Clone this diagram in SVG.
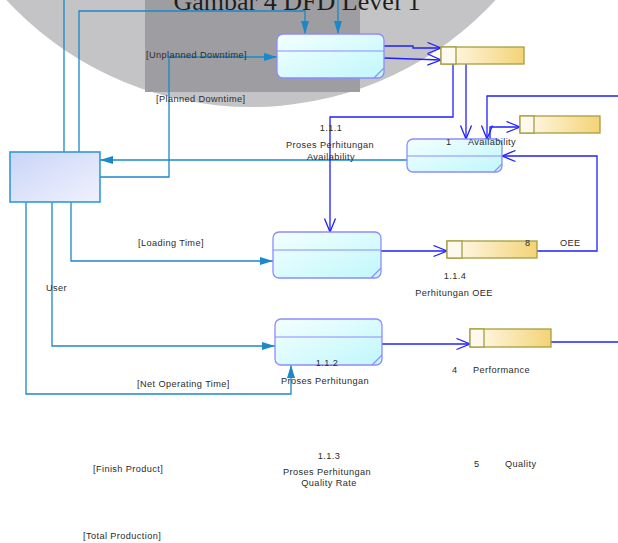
<svg xmlns="http://www.w3.org/2000/svg" width="618" height="543" viewBox="0 0 618 543">
<style>
.lb{stroke:#1a88c9;stroke-width:1.3;fill:none}
.db{stroke:#1f1fff;stroke-width:1.3;fill:none}
.proc{stroke:#8c8cff;stroke-width:1.3;fill:url(#gProc)}
.pdiv{stroke:#8c8cff;stroke-width:1.1}
.ds{stroke:#a69f3e;stroke-width:1.3;fill:url(#gDs)}
.dsl{fill:#fdf9ee;stroke:#a69f3e;stroke-width:1.3}
.t{font-family:"Liberation Sans",Arial,sans-serif;font-size:9.2px;letter-spacing:0.4px;fill:#2b2b2b}
.c{text-anchor:middle}
</style>
<defs>
<linearGradient id="gProc" x1="0" y1="0" x2="1" y2="1">
<stop offset="0" stop-color="#f4ffff"/><stop offset="1" stop-color="#c0f7fb"/>
</linearGradient>
<linearGradient id="gEnt" x1="0" y1="0" x2="1" y2="1">
<stop offset="0" stop-color="#c9d5f6"/><stop offset="1" stop-color="#f0f1fe"/>
</linearGradient>
<linearGradient id="gDs" x1="0" y1="0" x2="1" y2="0">
<stop offset="0" stop-color="#fffbf0"/><stop offset="1" stop-color="#f4d377"/>
</linearGradient>
<marker id="af" markerUnits="userSpaceOnUse" markerWidth="13" markerHeight="8" refX="13" refY="4" orient="auto">
<path d="M0,0 L13,4 L0,8 z" fill="#1a88c9"/>
</marker>
<marker id="ao" markerUnits="userSpaceOnUse" markerWidth="16" markerHeight="13" refX="14.5" refY="6.5" orient="auto">
<path d="M1,1 L14.5,6.5 L1,12" fill="none" stroke="#1f1fff" stroke-width="1.3"/>
</marker>
</defs>

<g id="background">
<circle cx="251" cy="-226" r="333" fill="#c4c4c6"/>
<rect x="145" y="0" width="215" height="92" fill="#9e9ea2"/>
<text x="297" y="10" text-anchor="middle" font-family="'Liberation Serif','Times New Roman',serif" font-size="26" fill="#1e1e1e">Gambar 4 DFD Level 1</text>
</g>

<g id="connectors">
<path class="lb" d="M64,152 V0"/>
<path class="lb" d="M79,152 V11 H305 V34" marker-end="url(#af)"/>
<path class="lb" d="M338,0 V34" marker-end="url(#af)"/>
<path class="lb" d="M100,177 H169 V57 H277" marker-end="url(#af)"/>
<path class="lb" d="M407,160 H100" marker-end="url(#af)"/>
<path class="lb" d="M71,202 V261 H273" marker-end="url(#af)"/>
<path class="lb" d="M52,202 V346 H275" marker-end="url(#af)"/>
<path class="lb" d="M26,202 V394 H291 V365" marker-end="url(#af)"/>

<path class="db" d="M384,46 H413 V48 H441" marker-end="url(#ao)"/>
<path class="db" d="M384,58 L441,60" marker-end="url(#ao)"/>
<path class="db" d="M453,64 V117 H330 V232" marker-end="url(#ao)"/>
<path class="db" d="M466,64 V139" marker-end="url(#ao)"/>
<path class="db" d="M618,96 H487 V139" marker-end="url(#ao)"/>
<path class="db" d="M490,139 V127 H520" marker-end="url(#ao)"/>
<path class="db" d="M537,251 H597 V156 H502" marker-end="url(#ao)"/>
<path class="db" d="M381,251 H447" marker-end="url(#ao)"/>
<path class="db" d="M382,344 H470" marker-end="url(#ao)"/>
<path class="db" d="M551,342 H618"/>
</g>

<g id="user">
<rect x="10" y="152" width="90" height="50" fill="url(#gEnt)" stroke="#3399d6" stroke-width="1.6"/>
</g>

<g id="proc-top">
<rect class="proc" x="277" y="34" width="107" height="44" rx="6"/>
<line class="pdiv" x1="277" y1="51" x2="384" y2="51"/>
<line class="pdiv" x1="374" y1="78" x2="384" y2="68"/>
</g>
<g id="proc-availability">
<rect class="proc" x="407" y="139" width="95" height="33" rx="6"/>
<line class="pdiv" x1="407" y1="156" x2="502" y2="156"/>
<line class="pdiv" x1="494" y1="172" x2="502" y2="164"/>
</g>
<g id="proc-oee">
<rect class="proc" x="273" y="232" width="108" height="46" rx="6"/>
<line class="pdiv" x1="273" y1="250" x2="381" y2="250"/>
<line class="pdiv" x1="371" y1="278" x2="381" y2="268"/>
</g>
<g id="proc-performance">
<rect class="proc" x="275" y="319" width="107" height="46" rx="6"/>
<line class="pdiv" x1="275" y1="337" x2="382" y2="337"/>
<line class="pdiv" x1="372" y1="365" x2="382" y2="355"/>
</g>

<g id="store-top">
<rect class="ds" x="441" y="47" width="83" height="17"/>
<rect class="dsl" x="441" y="47" width="15" height="17"/>
</g>
<g id="store-availability">
<rect class="ds" x="520" y="116" width="80" height="17"/>
<rect class="dsl" x="520" y="116" width="14" height="17"/>
</g>
<g id="store-oee">
<rect class="ds" x="447" y="241" width="90" height="17"/>
<rect class="dsl" x="447" y="241" width="15" height="17"/>
</g>
<g id="store-performance">
<rect class="ds" x="470" y="329" width="81" height="18"/>
<rect class="dsl" x="470" y="329" width="14" height="18"/>
</g>

<g id="labels">
<text class="t" x="146" y="58">[Unplanned Downtime]</text>
<text class="t" x="156" y="102">[Planned Downtime]</text>
<text class="t c" x="331" y="131">1.1.1</text>
<text class="t c" x="330" y="148">Proses Perhitungan</text>
<text class="t c" x="331" y="160">Availability</text>
<text class="t" x="446" y="145">1</text>
<text class="t" x="468" y="145">Availability</text>
<text class="t" x="138" y="246">[Loading Time]</text>
<text class="t" x="46" y="291">User</text>
<text class="t" x="525" y="246">8</text>
<text class="t" x="560" y="246">OEE</text>
<text class="t c" x="455" y="279">1.1.4</text>
<text class="t c" x="454" y="296">Perhitungan OEE</text>
<text class="t c" x="327" y="366">1.1.2</text>
<text class="t c" x="325" y="384">Proses Perhitungan</text>
<text class="t" x="452" y="373">4</text>
<text class="t" x="473" y="373">Performance</text>
<text class="t" x="137" y="387">[Net Operating Time]</text>
<text class="t c" x="329" y="459">1.1.3</text>
<text class="t c" x="327" y="475">Proses Perhitungan</text>
<text class="t c" x="329" y="486">Quality Rate</text>
<text class="t" x="474" y="467">5</text>
<text class="t" x="505" y="467">Quality</text>
<text class="t" x="93" y="472">[Finish Product]</text>
<text class="t" x="83" y="539">[Total Production]</text>
</g>
</svg>
